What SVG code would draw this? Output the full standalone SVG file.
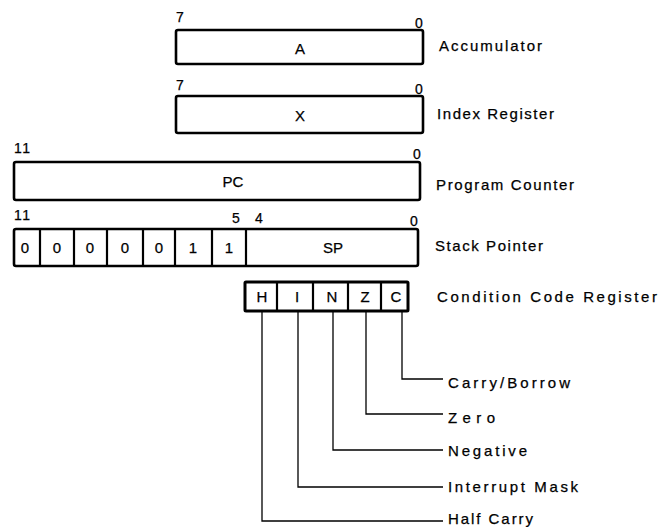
<svg xmlns="http://www.w3.org/2000/svg" width="663" height="527" viewBox="0 0 663 527">
<style>
.box{fill:#fff;stroke:#000;stroke-width:2.6;stroke-linejoin:round}
.cell{fill:none;stroke:#000;stroke-width:2.2}
.lead{fill:none;stroke:#000;stroke-width:1.3}
text{font-family:"Liberation Sans",Arial,sans-serif;fill:#000;stroke:#000;stroke-width:0.25}
.num{font-size:14px}
.reg{font-size:15px;text-anchor:middle}
.lbl{font-size:15px}
</style>
<rect width="663" height="527" fill="#fff"/>
<g id="accumulator">
<text class="num" x="176" y="22">7</text>
<text class="num" x="415" y="28">0</text>
<rect class="box" x="176" y="30" width="247" height="34" rx="2"/>
<text class="reg" x="300" y="54">A</text>
<text class="lbl" x="439" y="51" textLength="103" lengthAdjust="spacing">Accumulator</text>
</g>
<g id="index-register">
<text class="num" x="176" y="90">7</text>
<text class="num" x="415" y="94">0</text>
<rect class="box" x="176" y="96" width="247" height="37" rx="2"/>
<text class="reg" x="300" y="121">X</text>
<text class="lbl" x="437" y="119" textLength="117" lengthAdjust="spacing">Index Register</text>
</g>
<g id="program-counter">
<text class="num" x="14" y="153" textLength="16" lengthAdjust="spacing">11</text>
<text class="num" x="413" y="159">0</text>
<rect class="box" x="14" y="162" width="406" height="38" rx="2"/>
<text class="reg" x="233" y="187">PC</text>
<text class="lbl" x="436" y="190" textLength="138" lengthAdjust="spacing">Program Counter</text>
</g>
<g id="stack-pointer">
<text class="num" x="14" y="220" textLength="16" lengthAdjust="spacing">11</text>
<text class="num" x="232" y="223">5</text>
<text class="num" x="255" y="223">4</text>
<text class="num" x="410" y="226">0</text>
<rect class="box" x="14" y="229" width="404" height="37" rx="2"/>
<path class="cell" d="M40 229V266M74 229V266M107 229V266M143 229V266M175 229V266M212 229V266M246 229V266"/>
<text class="reg" x="25" y="253">0</text>
<text class="reg" x="57" y="253">0</text>
<text class="reg" x="90" y="253">0</text>
<text class="reg" x="125" y="253">0</text>
<text class="reg" x="159" y="253">0</text>
<text class="reg" x="193" y="253">1</text>
<text class="reg" x="229" y="253">1</text>
<text class="reg" x="333" y="253">SP</text>
<text class="lbl" x="435" y="251" textLength="108" lengthAdjust="spacing">Stack Pointer</text>
</g>
<g id="condition-code-register">
<rect class="box" x="245" y="282" width="163" height="29" rx="1" style="stroke-width:3"/>
<path class="cell" d="M277 282V311M313 282V311M348 282V311M381 282V311"/>
<text class="reg" x="262" y="302">H</text>
<text class="reg" x="297" y="302">I</text>
<text class="reg" x="332" y="302">N</text>
<text class="reg" x="365" y="302">Z</text>
<text class="reg" x="396" y="302">C</text>
<text class="lbl" x="437" y="302" textLength="220" lengthAdjust="spacing">Condition Code Register</text>
</g>
<g id="connectors">
<path class="lead" d="M402 311V379H443"/>
<path class="lead" d="M366 311V414H443"/>
<path class="lead" d="M333 311V450H443"/>
<path class="lead" d="M298 311V487H443"/>
<path class="lead" d="M262 311V521H443"/>
</g>
<g id="flag-labels">
<text class="lbl" x="448" y="388" textLength="122" lengthAdjust="spacing">Carry/Borrow</text>
<text class="lbl" x="448" y="423" textLength="47" lengthAdjust="spacing">Zero</text>
<text class="lbl" x="448" y="456" textLength="79" lengthAdjust="spacing">Negative</text>
<text class="lbl" x="448" y="492" textLength="130" lengthAdjust="spacing">Interrupt Mask</text>
<text class="lbl" x="448" y="524" textLength="85" lengthAdjust="spacing">Half Carry</text>
</g>
</svg>
